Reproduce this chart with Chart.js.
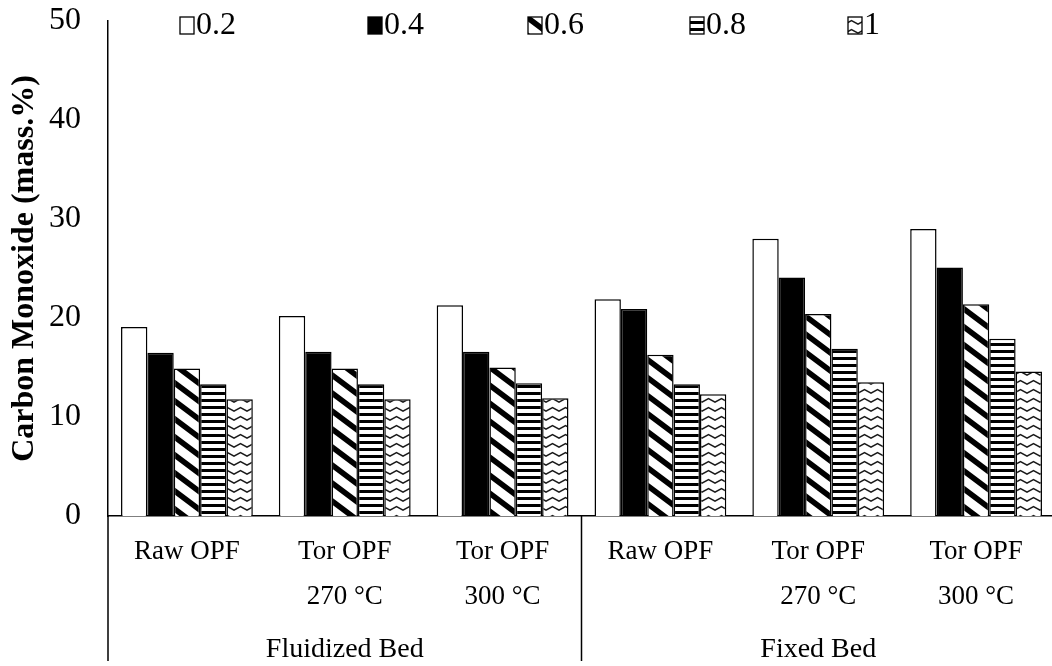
<!DOCTYPE html>
<html>
<head>
<meta charset="utf-8">
<script src="https://cdn.jsdelivr.net/npm/chart.js@4.4.1/dist/chart.umd.min.js"></script>
<style>
  html, body { margin: 0; padding: 0; background: #ffffff; overflow: hidden; }
  #wrap { width: 1060px; height: 666px; position: relative; }
</style>
</head>
<body>
<div id="wrap"><canvas id="chart" width="1060" height="666"></canvas></div>
<script>
// Feedstock categories (two-line labels) and the reactor type they belong to
const categories = [
  ['Raw OPF'], ['Tor OPF', '270 °C'], ['Tor OPF', '300 °C'],
  ['Raw OPF'], ['Tor OPF', '270 °C'], ['Tor OPF', '300 °C']
];
const bedTypes = ['Fluidized Bed', 'Fixed Bed'];

// Equivalence ratio series
const seriesNames = ['0.2', '0.4', '0.6', '0.8', '1'];

// Carbon monoxide yield (mass.%) per series, one value per category
const co02 = [19.1, 20.2, 21.3, 21.9, 28.0, 29.0];
const co04 = [16.5, 16.6, 16.6, 20.9, 24.1, 25.1];
const co06 = [14.9, 14.9, 15.0, 16.3, 20.4, 21.4];
const co08 = [13.3, 13.3, 13.4, 13.3, 16.9, 17.9];
const co10 = [11.8, 11.8, 11.9, 12.3, 13.5, 14.6];

// Value axis
const yMin = 0, yMax = 50, yStep = 10;
const yTitle = 'Carbon Monoxide (mass.%)';

const FONT = '"Liberation Serif", "Times New Roman", serif';

// Horizontal offsets of the legend entries from the plot's left edge
const legendOffsets = [72, 260, 420, 582, 740];

// ---- fill patterns for the monochrome bars ----
function tile(w, h, paint) {
  const c = document.createElement('canvas');
  c.width = w; c.height = h;
  const g = c.getContext('2d');
  g.fillStyle = '#ffffff';
  g.fillRect(0, 0, w, h);
  paint(g, w, h);
  return document.getElementById('chart').getContext('2d').createPattern(c, 'repeat');
}

const diagonal = tile(24, 18, (g, w, h) => {
  g.strokeStyle = '#000';
  g.lineWidth = 5.6;
  g.beginPath();
  for (let k = -1; k <= 1; k++) {
    g.moveTo(-4, -3 + k * h);
    g.lineTo(w + 4, h + 3 + k * h);
  }
  g.stroke();
});

const horizontal = tile(8, 7, (g, w) => {
  g.fillStyle = '#000';
  g.fillRect(0, 0, w, 3);
});

const wave = tile(13, 9, (g, w) => {
  g.strokeStyle = '#1a1a1a';
  g.lineWidth = 1.5;
  g.beginPath();
  g.moveTo(-1, 6.6);
  g.lineTo(w / 2, 2.6);
  g.lineTo(w + 1, 6.6);
  g.stroke();
});

const fills = ['#ffffff', '#000000', diagonal, horizontal, wave];
const values = [co02, co04, co06, co08, co10];

const datasets = seriesNames.map((name, i) => ({
  label: name,
  data: values[i],
  backgroundColor: fills[i],
  borderColor: '#000000',
  borderWidth: 1.5,
  borderSkipped: 'bottom',
  categoryPercentage: 0.835,
  barPercentage: 1.0,
  xAxisID: 'x',
  yAxisID: 'y'
}));

// Legend row drawn across the top of the plot area
const topLegend = {
  id: 'topLegend',
  afterDraw(chart) {
    const { ctx, chartArea } = chart;
    ctx.save();
    ctx.font = '32px ' + FONT;
    ctx.textBaseline = 'middle';
    ctx.textAlign = 'left';
    chart.data.datasets.forEach((ds, i) => {
      const x = chartArea.left + legendOffsets[i];
      const y = 25;
      ctx.fillStyle = ds.backgroundColor;
      ctx.fillRect(x, y - 8, 14, 17);
      ctx.lineWidth = 1.3;
      ctx.strokeStyle = '#000';
      ctx.strokeRect(x, y - 8, 14, 17);
      ctx.fillStyle = '#000';
      ctx.fillText(ds.label, x + 16, y + 1);
    });
    ctx.restore();
  }
};

// Separator lines between the reactor groups below the axis
const groupDividers = {
  id: 'groupDividers',
  afterDraw(chart) {
    const { ctx, chartArea } = chart;
    const x2 = chart.scales.x2;
    const mid = (x2.getPixelForTick(0) + x2.getPixelForTick(1)) / 2;
    ctx.save();
    ctx.strokeStyle = '#000';
    ctx.lineWidth = 1.5;
    ctx.beginPath();
    [chartArea.left, mid].forEach(px => {
      ctx.moveTo(px, chartArea.bottom);
      ctx.lineTo(px, chart.height - 5);
    });
    ctx.stroke();
    ctx.restore();
  }
};

Chart.defaults.font.family = FONT;
Chart.defaults.color = '#000000';

new Chart(document.getElementById('chart'), {
  type: 'bar',
  data: { labels: categories, datasets },
  options: {
    responsive: false,
    animation: false,
    devicePixelRatio: 1,
    layout: { padding: { left: 0, top: 21, right: 5, bottom: 0 } },
    plugins: {
      legend: { display: false },
      tooltip: { enabled: false }
    },
    scales: {
      x: {
        type: 'category',
        offset: true,
        grid: { display: false, drawTicks: false },
        border: { display: true, color: '#000', width: 1.5 },
        ticks: {
          font: { size: 27, lineHeight: 1.65 },
          color: '#000',
          padding: 14,
          maxRotation: 0,
          autoSkip: false
        },
        afterFit(scale) { scale.height = 100; }
      },
      x2: {
        type: 'category',
        labels: bedTypes,
        position: 'bottom',
        offset: true,
        grid: { display: false, drawTicks: false },
        border: { display: false },
        ticks: { font: { size: 28 }, color: '#000', padding: 17, maxRotation: 0 },
        afterFit(scale) { scale.height = 50; }
      },
      y: {
        min: yMin,
        max: yMax,
        grid: { display: false, drawTicks: false },
        border: { display: true, color: '#000', width: 1.5 },
        ticks: {
          stepSize: yStep,
          font: { size: 32 },
          color: '#000',
          padding: 27
        },
        title: {
          display: true,
          text: yTitle,
          font: { size: 32, weight: 'bold' },
          color: '#000',
          padding: { top: 6, bottom: 0 }
        },
        afterFit(scale) {
          // fixed axis band; only half a label of headroom above the top tick
          scale.width = 108;
          scale.paddingTop = 18;
          scale.paddingBottom = 18;
        }
      }
    }
  },
  plugins: [topLegend, groupDividers]
});
</script>
</body>
</html>
